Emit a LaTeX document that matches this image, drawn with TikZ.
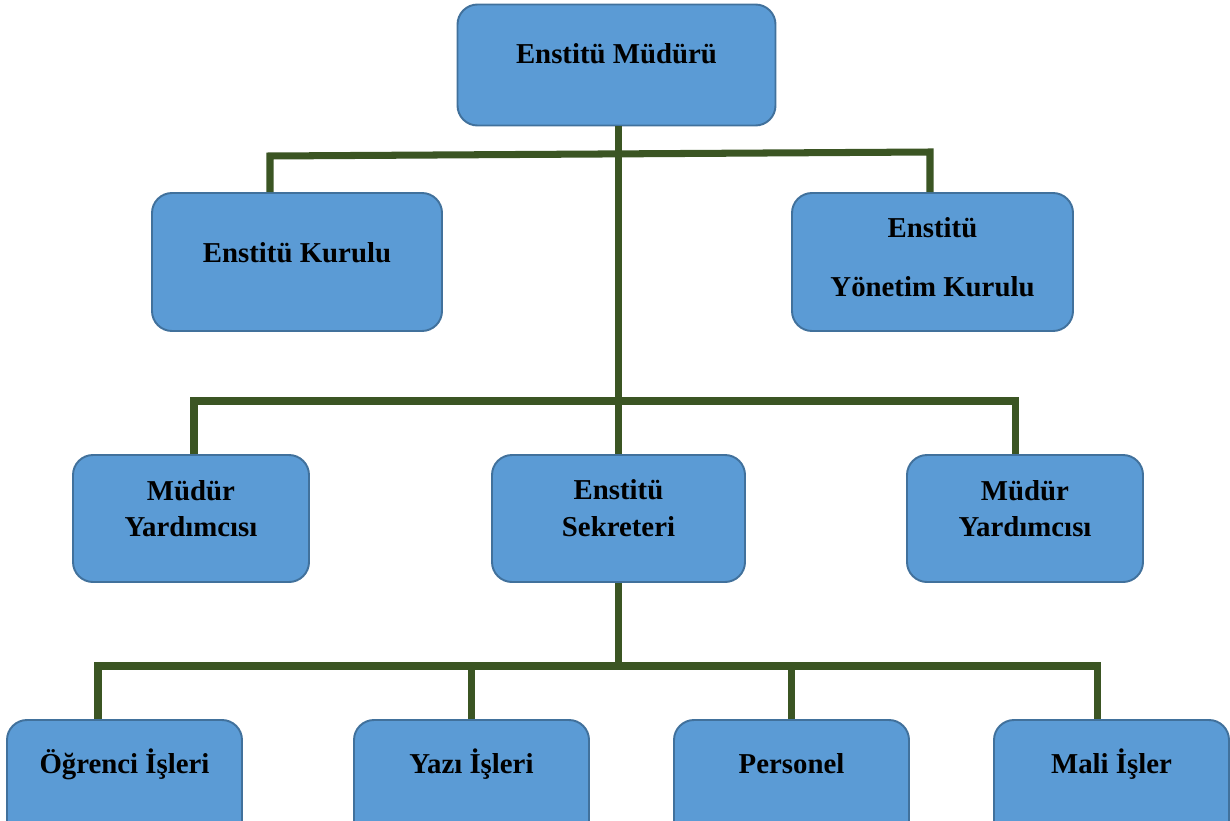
\documentclass[tikz,border=0pt]{standalone}
\usepackage{fontspec}
\setmainfont{Liberation Serif}
\usepackage{tikz}
\usetikzlibrary{calc}
\definecolor{boxblue}{HTML}{5B9BD5}
\definecolor{boxedge}{HTML}{41719C}
\definecolor{linkgreen}{HTML}{3B5523}
\tikzset{
  unitbox/.style={draw=boxedge, fill=boxblue, line width=1.1pt, rounded corners=0.4cm, inner sep=0pt},
  link/.style={draw=linkgreen, line width=4pt, line join=miter},
  lbl/.style={anchor=base, inner sep=0pt, font=\fontsize{16.4}{20}\selectfont\bfseries}
}

\begin{document}
\begin{tikzpicture}[x=0.02cm, y=-0.02cm]
                \useasboundingbox (0,0) rectangle (1230,821);

                % boxes
                \node[unitbox, minimum width=318*0.02cm, minimum height=121*0.02cm] (mud) at (616.5,65) {};
                \node[unitbox, minimum width=290*0.02cm, minimum height=138*0.02cm] (kur) at (297,262) {};
                \node[unitbox, minimum width=281*0.02cm, minimum height=138*0.02cm] (ykur) at (932.5,262) {};
                \node[unitbox, minimum width=236*0.02cm, minimum height=127*0.02cm] (myl) at (191,518.5) {};
                \node[unitbox, minimum width=253*0.02cm, minimum height=127*0.02cm] (sek) at (618.5,518.5) {};
                \node[unitbox, minimum width=236*0.02cm, minimum height=127*0.02cm] (myr) at (1025,518.5) {};
                \node[unitbox, minimum width=235*0.02cm, minimum height=125*0.02cm] (ogr) at (124.5,782.5) {};
                \node[unitbox, minimum width=235*0.02cm, minimum height=125*0.02cm] (yazi) at (471.5,782.5) {};
                \node[unitbox, minimum width=235*0.02cm, minimum height=125*0.02cm] (pers) at (791.5,782.5) {};
                \node[unitbox, minimum width=235*0.02cm, minimum height=125*0.02cm] (mali) at (1111.5,782.5) {};

                % texts
                \node[lbl] (mudt) at (616.5,64) {Enstitü Müdürü};
                \node[lbl] (kurt) at (297,262) {Enstitü Kurulu};
                \node[lbl] (ykurta) at (932.5,237) {Enstitü};
                \node[lbl] (ykurtb) at (932.5,296) {Yönetim Kurulu};
                \node[lbl] (mylta) at (191,500) {Müdür};
                \node[lbl] (myltb) at (191,536) {Yardımcısı};
                \node[lbl] (sekta) at (618.5,499) {Enstitü};
                \node[lbl] (sektb) at (618.5,536) {Sekreteri};
                \node[lbl] (myrta) at (1025,500) {Müdür};
                \node[lbl] (myrtb) at (1025,536) {Yardımcısı};
                \node[lbl] (ogrt) at (124.5,773) {Öğrenci İşleri};
                \node[lbl] (yazit) at (471.5,773) {Yazı İşleri};
                \node[lbl] (perst) at (791.5,773) {Personel};
                \node[lbl] (malit) at (1111.5,773) {Mali İşler};

                % bus points
                \coordinate (j1) at (270,156);
                \coordinate (j2) at (930,152);
                \coordinate (j3) at (194,401);
                \coordinate (j4) at (1015,401);
                \coordinate (j5) at (98,666);
                \coordinate (j6) at (1097,666);

                % connectors
                \draw[link] (sek.north |- mud.south) -- (sek.north);
                \draw[link] (j1 |- kur.north) -- (j1) -- (j2) -- (j2 |- ykur.north);
                \draw[link] (j3 |- myl.north) -- (j3) -- (j4) -- (j4 |- myr.north);
                \draw[link] (sek.south) -- (sek.south |- j5);
                \draw[link] (j5 |- ogr.north) -- (j5) -- (j6) -- (j6 |- mali.north);
                \draw[link] (yazi.north |- j5) -- (yazi.north);
                \draw[link] (pers.north |- j5) -- (pers.north);
            \end{tikzpicture}
\end{document}
